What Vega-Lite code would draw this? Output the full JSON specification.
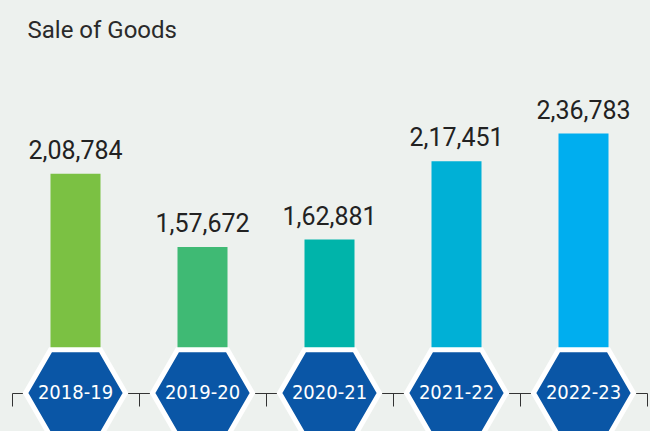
{
  "$schema": "https://vega.github.io/schema/vega-lite/v6.json",
  "width": 635,
  "height": 343,
  "autosize": {"type": "none"},
  "padding": {"left": 12, "top": 50, "right": 3, "bottom": 38},
  "background": "#edf1ee",
  "title": {"text": "Sale of Goods", "anchor": "start", "dx": 16, "fontSize": 24, "font": "Roboto", "fontWeight": "normal", "color": "#2a2a2a", "offset": 7},
  "config": {
    "view": {"stroke": null},
    "locale": {"number": {"decimal": ".", "thousands": ",", "grouping": [3, 2], "currency": ["₹", ""]}}
  },
  "data": {"values": [
    {"year": "2018-19", "sales": 208784},
    {"year": "2019-20", "sales": 157672},
    {"year": "2020-21", "sales": 162881},
    {"year": "2021-22", "sales": 217451},
    {"year": "2022-23", "sales": 236783}
  ]},
  "encoding": {
    "x": {"field": "year", "type": "nominal", "sort": null,
      "scale": {"paddingInner": 0, "paddingOuter": 0},
      "axis": {"title": null, "labels": false, "domain": true, "domainColor": "#333333", "domainWidth": 1, "ticks": true, "tickColor": "#333333", "tickWidth": 1, "tickSize": 13, "bandPosition": 1, "tickExtra": true, "grid": false, "zindex": 0}}
  },
  "layer": [
    {
      "mark": {"type": "bar", "width": 50},
      "encoding": {
        "y": {"field": "sales", "type": "quantitative", "scale": {"domain": [56000, 295000], "zero": false, "nice": false}, "axis": null},
        "y2": {"datum": 56000},
        "color": {"field": "year", "type": "nominal", "sort": null, "scale": {"range": ["#7bc143", "#3fba74", "#00b4aa", "#00b0d6", "#00aeef"]}, "legend": null}
      }
    },
    {
      "mark": {"type": "text", "baseline": "alphabetic", "dy": -15, "fontSize": 25, "font": "Roboto", "color": "#222222"},
      "encoding": {
        "y": {"field": "sales", "type": "quantitative"},
        "text": {"field": "sales", "type": "quantitative", "format": ","}
      }
    },
    {
      "mark": {"type": "point", "shape": "M-1,0L-0.5,-0.866L0.5,-0.866L1,0L0.5,0.866L-0.5,0.866Z", "size": 10000, "filled": true, "fill": "#0a56a6", "stroke": "#ffffff", "strokeWidth": 5, "opacity": 1},
      "encoding": {"y": {"datum": 56000}}
    },
    {
      "mark": {"type": "text", "font": "Liberation Sans Narrow, DejaVu Sans Condensed, sans-serif", "fontSize": 20, "color": "#ffffff", "baseline": "middle"},
      "encoding": {
        "y": {"datum": 56000},
        "text": {"field": "year", "type": "nominal"}
      }
    }
  ]
}
